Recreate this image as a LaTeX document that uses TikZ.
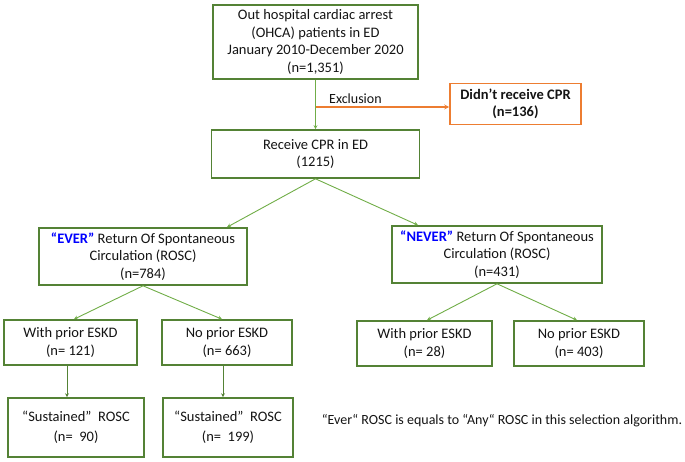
\documentclass[tikz,border=0pt]{standalone}
\usepackage{fontspec}
\setmainfont{Carlito}
\usetikzlibrary{arrows.meta}
\definecolor{boxgreen}{HTML}{548235}
\definecolor{linegreen}{HTML}{70AD47}
\definecolor{exorange}{HTML}{ED7D31}
\definecolor{everblue}{HTML}{0000FF}
\tikzset{
  box/.style={draw=boxgreen, line width=1.6pt, fill=white, align=center, inner sep=0pt,
    font=\fontsize{14.5}{17.5}\selectfont, text=black!92},
  obox/.style={draw=exorange, line width=1.6pt, fill=white, align=center, inner sep=0pt,
    font=\bfseries\fontsize{14.5}{17.5}\selectfont, text=black!92},
  conn/.style={draw=linegreen, line width=0.9pt, -{Stealth[length=4pt,width=4pt]}},
  dconn/.style={draw=boxgreen, line width=1pt, -{Stealth[length=4pt,width=4pt]}},
  oconn/.style={draw=exorange, line width=1.2pt, -{Stealth[length=5pt,width=5pt]}},
  lbl/.style={font=\fontsize{14}{16}\selectfont, text=black!92, inner sep=0pt},
}
\begin{document}
\begin{tikzpicture}[x=1pt,y=-1pt]
\useasboundingbox (0,0) rectangle (685,462);
\node[box, minimum width=205pt, minimum height=74pt] (top) at (315.5,42)
  {Out hospital cardiac arrest\\(OHCA) patients in ED\\January 2010-December 2020\\(n=1,351)};
\node[obox, minimum width=131pt, minimum height=41pt] (excl) at (515.5,104)
  {Didn’t receive CPR\\(n=136)};
\node[box, minimum width=208pt, minimum height=48pt] (rec) at (315.5,154)
  {Receive CPR in ED\\(1215)};
\node[box, minimum width=208pt, minimum height=57pt] (ever) at (143,256.5)
  {{\bfseries\color{everblue}“EVER”} Return Of Spontaneous\\Circulation (ROSC)\\(n=784)};
\node[box, minimum width=210pt, minimum height=57pt] (never) at (497,254.5)
  {{\bfseries\color{everblue}“NEVER”} Return Of Spontaneous\\Circulation (ROSC)\\(n=431)};
\node[box, minimum width=133pt, minimum height=45pt] (wl) at (70.5,342.5)
  {With prior ESKD\\(n= 121)};
\node[box, minimum width=130pt, minimum height=45pt] (nl) at (227,342.5)
  {No prior ESKD\\(n= 663)};
\node[box, minimum width=136pt, minimum height=59pt] (sl) at (76,427.5)
  {“Sustained”\ \ ROSC\\[3pt](n=\ \ 90)};
\node[box, minimum width=130pt, minimum height=59pt] (sr) at (228,427.5)
  {“Sustained”\ \ ROSC\\[3pt](n=\ \ 199)};
\node[box, minimum width=135pt, minimum height=45pt] (wr) at (424.5,343.5)
  {With prior ESKD\\(n= 28)};
\node[box, minimum width=130pt, minimum height=45pt] (nr) at (579,343.5)
  {No prior ESKD\\(n= 403)};
\node[lbl] (note) at (502,421)
  {“Ever“ ROSC is equals to “Any“ ROSC in this selection algorithm.};
% connectors
\draw[conn] (top.south) -- (rec.north);
\coordinate (ex) at (315.5,107);
\draw[oconn] (ex) -- (excl.west |- ex);
\node[lbl, anchor=south west] (exlbl) at (329,104) {Exclusion};
\draw[conn] (rec.south) -- ([xshift=84pt]ever.north);
\draw[conn] (rec.south) -- ([xshift=-79pt]never.north);
\draw[conn] (ever.south) -- ([xshift=3.5pt]wl.north);
\draw[conn] (ever.south) -- ([xshift=-5pt]nl.north);
\draw[conn] (never.south) -- ([xshift=2.5pt]wr.north);
\draw[conn] (never.south) -- ([xshift=-2pt]nr.north);
\coordinate (vl) at (67,0);
\coordinate (vr) at (223,0);
\draw[dconn] (wl.south -| vl) -- (sl.north -| vl);
\draw[dconn] (nl.south -| vr) -- (sr.north -| vr);
\end{tikzpicture}
\end{document}
